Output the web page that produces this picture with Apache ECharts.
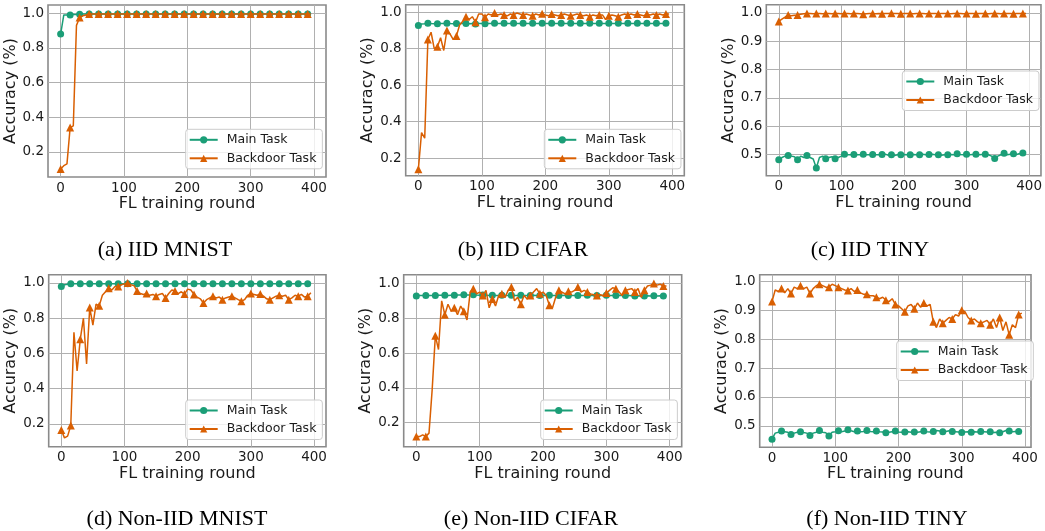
<!DOCTYPE html>
<html>
<head>
<meta charset="utf-8">
<script src="https://cdn.jsdelivr.net/npm/echarts@6/dist/echarts.min.js"></script>
<style>
  html, body { margin: 0; padding: 0; background: #fff; }
  #chart { width: 1045px; height: 531px; }
</style>
</head>
<body>
<div id="chart"></div>
<script>
// FL training rounds (sampled every 5 rounds)
const rounds = [
  0, 5, 10, 15, 20, 25, 30, 35, 40, 45, 50, 55, 60, 65, 70, 75, 80, 85, 90, 95,
  100, 105, 110, 115, 120, 125, 130, 135, 140, 145, 150, 155, 160, 165, 170, 175, 180, 185, 190, 195,
  200, 205, 210, 215, 220, 225, 230, 235, 240, 245, 250, 255, 260, 265, 270, 275, 280, 285, 290, 295,
  300, 305, 310, 315, 320, 325, 330, 335, 340, 345, 350, 355, 360, 365, 370, 375, 380, 385, 390, 395
]

// (a) IID MNIST
const mnistIidMain = [
  0.88, 0.99, 0.99, 0.99, 0.992, 0.993, 0.994, 0.995, 0.995, 0.995,
  0.995, 0.995, 0.995, 0.995, 0.995, 0.995, 0.995, 0.995, 0.995, 0.995,
  0.995, 0.995, 0.995, 0.995, 0.995, 0.995, 0.995, 0.995, 0.995, 0.995,
  0.995, 0.995, 0.995, 0.995, 0.995, 0.995, 0.995, 0.995, 0.995, 0.995,
  0.995, 0.995, 0.995, 0.995, 0.995, 0.995, 0.995, 0.995, 0.995, 0.995,
  0.995, 0.995, 0.995, 0.995, 0.995, 0.995, 0.995, 0.995, 0.995, 0.995,
  0.995, 0.995, 0.995, 0.995, 0.995, 0.995, 0.995, 0.995, 0.995, 0.995,
  0.995, 0.995, 0.995, 0.995, 0.995, 0.995, 0.995, 0.995, 0.995, 0.995
]
const mnistIidBackdoor = [
  0.10, 0.12, 0.13, 0.34, 0.35, 0.93, 0.975, 0.985, 0.99, 0.995,
  0.995, 0.995, 0.995, 0.995, 0.995, 0.995, 0.995, 0.995, 0.995, 0.995,
  0.995, 0.995, 0.995, 0.995, 0.995, 0.995, 0.995, 0.995, 0.995, 0.995,
  0.995, 0.995, 0.995, 0.995, 0.995, 0.995, 0.995, 0.995, 0.995, 0.995,
  0.995, 0.995, 0.995, 0.995, 0.995, 0.995, 0.995, 0.995, 0.995, 0.995,
  0.995, 0.995, 0.995, 0.995, 0.995, 0.995, 0.995, 0.995, 0.995, 0.995,
  0.995, 0.995, 0.995, 0.995, 0.995, 0.995, 0.995, 0.995, 0.995, 0.995,
  0.995, 0.995, 0.995, 0.995, 0.995, 0.995, 0.995, 0.995, 0.995, 0.995
]

// (b) IID CIFAR
const cifarIidMain = [
  0.927, 0.935, 0.937, 0.94, 0.938, 0.937, 0.937, 0.938, 0.938, 0.94,
  0.938, 0.937, 0.938, 0.938, 0.94, 0.938, 0.937, 0.938, 0.935, 0.938,
  0.938, 0.937, 0.938, 0.938, 0.94, 0.938, 0.938, 0.94, 0.938, 0.938,
  0.94, 0.938, 0.938, 0.94, 0.938, 0.938, 0.94, 0.938, 0.938, 0.94,
  0.938, 0.938, 0.94, 0.938, 0.938, 0.94, 0.938, 0.938, 0.94, 0.938,
  0.938, 0.94, 0.938, 0.938, 0.94, 0.938, 0.938, 0.94, 0.938, 0.938,
  0.94, 0.938, 0.938, 0.94, 0.938, 0.938, 0.94, 0.938, 0.938, 0.94,
  0.938, 0.938, 0.94, 0.938, 0.938, 0.94, 0.938, 0.938, 0.94, 0.94
]
const cifarIidBackdoor = [
  0.14, 0.34, 0.31, 0.85, 0.89, 0.80, 0.81, 0.86, 0.79, 0.90,
  0.88, 0.85, 0.87, 0.93, 0.95, 0.975, 0.96, 0.975, 0.945, 0.99,
  0.99, 0.972, 0.99, 0.985, 0.995, 0.985, 0.99, 0.985, 0.98, 0.99,
  0.985, 0.995, 0.99, 0.985, 0.99, 0.985, 0.98, 0.99, 0.985, 0.992,
  0.985, 0.98, 0.99, 0.985, 0.98, 0.985, 0.99, 0.985, 0.98, 0.985,
  0.99, 0.985, 0.98, 0.985, 0.975, 0.985, 0.98, 0.985, 0.985, 0.96,
  0.98, 0.985, 0.98, 0.975, 0.985, 0.99, 0.985, 0.99, 0.985, 0.99,
  0.985, 0.98, 0.99, 0.985, 0.99, 0.985, 0.99, 0.985, 0.99, 0.99
]

// (c) IID TINY
const tinyIidMain = [
  0.482, 0.49, 0.495, 0.497, 0.495, 0.493, 0.482, 0.495, 0.49, 0.497,
  0.49, 0.485, 0.453, 0.49, 0.495, 0.486, 0.49, 0.493, 0.486, 0.49,
  0.495, 0.502, 0.5, 0.5, 0.501, 0.5, 0.5, 0.502, 0.5, 0.5,
  0.501, 0.5, 0.5, 0.501, 0.502, 0.498, 0.5, 0.497, 0.5, 0.5,
  0.501, 0.5, 0.5, 0.501, 0.5, 0.5, 0.502, 0.5, 0.501, 0.502,
  0.5, 0.5, 0.498, 0.5, 0.5, 0.501, 0.5, 0.503, 0.501, 0.5,
  0.502, 0.5, 0.501, 0.502, 0.5, 0.501, 0.502, 0.5, 0.495, 0.487,
  0.495, 0.5, 0.505, 0.5, 0.502, 0.503, 0.501, 0.504, 0.506, 0.505
]
const tinyIidBackdoor = [
  0.97, 0.978, 0.985, 0.993, 0.99, 0.992, 0.993, 0.995, 0.997, 0.998,
  0.998, 0.997, 0.998, 0.998, 0.997, 0.998, 0.998, 0.997, 0.998, 0.998,
  0.997, 0.998, 0.998, 0.997, 0.998, 0.998, 0.997, 0.995, 0.997, 0.998,
  0.998, 0.997, 0.998, 0.997, 0.998, 0.998, 0.999, 0.998, 0.998, 0.997,
  0.998, 0.998, 0.998, 0.997, 0.998, 0.998, 0.998, 0.997, 0.998, 0.998,
  0.998, 0.997, 0.998, 0.998, 0.998, 0.997, 0.998, 0.998, 0.998, 0.997,
  0.998, 0.998, 0.998, 0.997, 0.998, 0.998, 0.998, 0.997, 0.998, 0.998,
  0.998, 0.997, 0.998, 0.998, 0.998, 0.997, 0.998, 0.998, 0.998, 0.998
]

// (d) Non-IID MNIST
const mnistNonIidMain = [
  0.98, 0.99, 0.993, 0.995, 0.995, 0.995, 0.995, 0.995, 0.995, 0.995,
  0.995, 0.995, 0.995, 0.995, 0.995, 0.995, 0.995, 0.995, 0.995, 0.995,
  0.995, 0.995, 0.995, 0.995, 0.995, 0.995, 0.995, 0.995, 0.995, 0.995,
  0.995, 0.995, 0.995, 0.995, 0.995, 0.995, 0.995, 0.995, 0.995, 0.995,
  0.995, 0.995, 0.995, 0.995, 0.995, 0.995, 0.995, 0.995, 0.995, 0.995,
  0.995, 0.995, 0.995, 0.995, 0.995, 0.995, 0.995, 0.995, 0.995, 0.995,
  0.995, 0.995, 0.995, 0.995, 0.995, 0.995, 0.995, 0.995, 0.995, 0.995,
  0.995, 0.995, 0.995, 0.995, 0.995, 0.995, 0.995, 0.995, 0.995, 0.995
]
const mnistNonIidBackdoor = [
  0.165, 0.12, 0.13, 0.19, 0.72, 0.50, 0.68, 0.80, 0.54, 0.86,
  0.76, 0.88, 0.87, 0.93, 0.95, 0.97, 0.96, 0.98, 0.98, 0.99,
  0.995, 1.0, 0.99, 0.985, 0.955, 0.94, 0.935, 0.94, 0.93, 0.935,
  0.925, 0.935, 0.94, 0.915, 0.94, 0.96, 0.955, 0.94, 0.95, 0.937,
  0.965, 0.96, 0.935, 0.92, 0.91, 0.886, 0.905, 0.915, 0.925, 0.915,
  0.92, 0.905, 0.915, 0.92, 0.925, 0.915, 0.905, 0.896, 0.905, 0.93,
  0.94, 0.935, 0.93, 0.937, 0.925, 0.91, 0.905, 0.915, 0.925, 0.93,
  0.925, 0.93, 0.905, 0.915, 0.93, 0.925, 0.935, 0.92, 0.924, 0.945
]

// (e) Non-IID CIFAR
const cifarNonIidMain = [
  0.928, 0.93, 0.93, 0.93, 0.93, 0.93, 0.93, 0.932, 0.932, 0.932,
  0.93, 0.932, 0.932, 0.933, 0.934, 0.935, 0.934, 0.933, 0.935, 0.933,
  0.932, 0.933, 0.932, 0.93, 0.932, 0.931, 0.93, 0.932, 0.93, 0.931,
  0.932, 0.93, 0.931, 0.932, 0.93, 0.931, 0.93, 0.932, 0.93, 0.931,
  0.93, 0.931, 0.932, 0.93, 0.931, 0.93, 0.931, 0.932, 0.93, 0.931,
  0.93, 0.931, 0.93, 0.931, 0.932, 0.93, 0.931, 0.93, 0.931, 0.93,
  0.932, 0.931, 0.93, 0.931, 0.932, 0.93, 0.931, 0.93, 0.929, 0.928,
  0.929, 0.928, 0.928, 0.929, 0.928, 0.929, 0.928, 0.929, 0.928, 0.928
]
const cifarNonIidBackdoor = [
  0.12, 0.12, 0.13, 0.12, 0.14, 0.39, 0.70, 0.62, 0.90, 0.82,
  0.88, 0.84, 0.86, 0.82, 0.87, 0.84, 0.79, 0.95, 0.97, 0.94,
  0.95, 0.93, 0.96, 0.86, 0.91, 0.87, 0.93, 0.94, 0.92, 0.96,
  0.98, 0.90, 0.92, 0.88, 0.93, 0.91, 0.93, 0.95, 0.97, 0.94,
  0.95, 0.93, 0.875, 0.86, 0.92, 0.96, 0.95, 0.94, 0.955, 0.95,
  0.96, 0.98, 0.95, 0.96, 0.95, 0.94, 0.935, 0.93, 0.935, 0.93,
  0.945, 0.96, 0.975, 0.97, 0.95, 0.93, 0.96, 0.965, 0.97, 0.95,
  0.97, 0.92, 0.96, 0.985, 0.99, 1.0, 0.99, 0.995, 0.985, 0.985
]

// (f) Non-IID TINY
const tinyNonIidMain = [
  0.454, 0.475, 0.478, 0.482, 0.48, 0.478, 0.47, 0.475, 0.478, 0.48,
  0.477, 0.475, 0.467, 0.475, 0.478, 0.484, 0.478, 0.476, 0.465, 0.478,
  0.48, 0.483, 0.48, 0.482, 0.487, 0.483, 0.48, 0.482, 0.48, 0.481,
  0.484, 0.481, 0.48, 0.482, 0.48, 0.479, 0.476, 0.478, 0.48, 0.482,
  0.479, 0.478, 0.479, 0.48, 0.478, 0.479, 0.478, 0.48, 0.482, 0.48,
  0.479, 0.481, 0.484, 0.482, 0.48, 0.481, 0.483, 0.481, 0.48, 0.479,
  0.477, 0.479, 0.48, 0.478, 0.48, 0.479, 0.481, 0.48, 0.479, 0.48,
  0.477, 0.478, 0.476, 0.48, 0.484, 0.482, 0.48, 0.481, 0.481, 0.48
]
const tinyNonIidBackdoor = [
  0.93, 0.97, 0.965, 0.975, 0.96, 0.975, 0.958, 0.98, 0.975, 0.985,
  0.975, 0.98, 0.958, 0.975, 0.985, 0.99, 0.985, 0.98, 0.98, 0.99,
  0.985, 0.98, 0.975, 0.97, 0.968, 0.975, 0.965, 0.97, 0.96, 0.955,
  0.955, 0.95, 0.95, 0.945, 0.94, 0.945, 0.935, 0.93, 0.94, 0.92,
  0.915, 0.905, 0.895, 0.915, 0.92, 0.905, 0.925, 0.91, 0.925, 0.915,
  0.92, 0.86, 0.84, 0.87, 0.855, 0.865, 0.875, 0.87, 0.885, 0.88,
  0.9, 0.895, 0.875, 0.865, 0.87, 0.86, 0.855, 0.86, 0.865, 0.85,
  0.87, 0.84, 0.875, 0.83, 0.86, 0.815, 0.85, 0.84, 0.885, 0.89
]

const xTicks = [0, 100, 200, 300, 400]
const yTicksWide = [0.2, 0.4, 0.6, 0.8, 1.0]
const yTicksNarrow = [0.5, 0.6, 0.7, 0.8, 0.9, 1.0]
const seriesNames = ['Main Task', 'Backdoor Task']
const captions = [
  '(a) IID MNIST', '(b) IID CIFAR', '(c) IID TINY',
  '(d) Non-IID MNIST', '(e) Non-IID CIFAR', '(f) Non-IID TINY'
]

const GREEN = '#1b9e77'
const ORANGE = '#d95f02'
const MARK_EVERY = 3 // one marker every 15 rounds

// layout of the six panels
const panels = [
  { main: mnistIidMain, backdoor: mnistIidBackdoor, yTicks: yTicksWide,
    grid: { left: 48, top: 5, width: 278, height: 172 },
    x: [-19.95, 418.95], y: [0.0545, 1.0475], legend: [185.7, 129.3], cap: [165, 250] },
  { main: cifarIidMain, backdoor: cifarIidBackdoor, yTicks: yTicksWide,
    grid: { left: 405.7, top: 4.7, width: 278.6, height: 171 },
    x: [-19.95, 418.95], y: [0.104, 1.041], legend: [544.3, 129.3], cap: [523, 250] },
  { main: tinyIidMain, backdoor: tinyIidBackdoor, yTicks: yTicksNarrow,
    grid: { left: 766.3, top: 4.7, width: 277, height: 171 },
    x: [-19.95, 418.95], y: [0.426, 1.029], legend: [902.3, 71], cap: [870, 250] },
  { main: mnistNonIidMain, backdoor: mnistNonIidBackdoor, yTicks: yTicksWide,
    grid: { left: 48.7, top: 274.7, width: 277.3, height: 172 },
    x: [-19.95, 418.95], y: [0.07, 1.047], legend: [185.7, 400], cap: [177, 519] },
  { main: cifarNonIidMain, backdoor: cifarNonIidBackdoor, yTicks: yTicksWide,
    grid: { left: 403.7, top: 274.7, width: 278, height: 172 },
    x: [-19.95, 418.95], y: [0.062, 1.05], legend: [540.7, 400], cap: [531, 519] },
  { main: tinyNonIidMain, backdoor: tinyNonIidBackdoor, yTicks: yTicksNarrow,
    grid: { left: 759.7, top: 274.7, width: 271.3, height: 172.6 },
    x: [-19.5, 409.5], y: [0.426, 1.023], legend: [896.7, 341], cap: [887, 519] }
]

const FONT = 'DejaVu Sans'

function buildData(values) {
  return values.map((v, i) =>
    i % MARK_EVERY === 0 ? [rounds[i], v] : { value: [rounds[i], v], symbol: 'none' }
  )
}

const chart = echarts.init(document.getElementById('chart'), null, { renderer: 'canvas' })

const option = {
  animation: false,
  backgroundColor: '#fff',
  grid: panels.map(p => ({
    ...p.grid,
    show: true,
    borderColor: '#8a8a8a',
    borderWidth: 1.6,
    backgroundColor: 'transparent',
    containLabel: false
  })),
  xAxis: panels.map((p, i) => ({
    type: 'value',
    gridIndex: i,
    min: p.x[0],
    max: p.x[1],
    name: 'FL training round',
    nameLocation: 'middle',
    nameGap: 19,
    nameTextStyle: { fontFamily: FONT, fontSize: 16, color: '#1a1a1a' },
    axisLine: { show: false },
    axisTick: { show: false, customValues: xTicks },
    axisLabel: {
      customValues: xTicks,
      margin: 4,
      fontFamily: FONT, fontSize: 13.5, color: '#1a1a1a'
    },
    splitLine: { show: true, lineStyle: { color: '#b0b0b0', width: 1 } }
  })),
  yAxis: panels.map((p, i) => ({
    type: 'value',
    gridIndex: i,
    min: p.y[0],
    max: p.y[1],
    name: 'Accuracy (%)',
    nameLocation: 'middle',
    nameGap: 23,
    nameTextStyle: { fontFamily: FONT, fontSize: 16, color: '#1a1a1a' },
    axisLine: { show: false },
    axisTick: { show: false, customValues: p.yTicks },
    axisLabel: {
      customValues: p.yTicks,
      margin: 4,
      formatter: v => v.toFixed(1),
      fontFamily: FONT, fontSize: 13.5, color: '#1a1a1a'
    },
    splitLine: { show: true, lineStyle: { color: '#b0b0b0', width: 1 } }
  })),
  legend: panels.map(p => ({
    data: seriesNames,
    orient: 'vertical',
    left: p.legend[0],
    top: p.legend[1],
    padding: [4, 6, 4, 3],
    itemGap: 5.5,
    itemWidth: 28,
    itemHeight: 9,
    selectedMode: false,
    backgroundColor: 'rgba(255,255,255,0.8)',
    borderColor: '#cccccc',
    borderWidth: 1,
    borderRadius: 3,
    textStyle: { fontFamily: FONT, fontSize: 12.5, color: '#1a1a1a', padding: [0, 0, 0, 4] }
  })),
  series: panels.flatMap((p, i) => [
    {
      name: seriesNames[0],
      type: 'line',
      xAxisIndex: i,
      yAxisIndex: i,
      data: buildData(p.main),
      symbol: 'circle',
      symbolSize: 7,
      showAllSymbol: true,
      lineStyle: { color: GREEN, width: 1.5 },
      itemStyle: { color: GREEN },
      emphasis: { disabled: true },
      z: 2
    },
    {
      name: seriesNames[1],
      type: 'line',
      xAxisIndex: i,
      yAxisIndex: i,
      data: buildData(p.backdoor),
      symbol: 'triangle',
      symbolSize: 8,
      showAllSymbol: true,
      lineStyle: { color: ORANGE, width: 1.5 },
      itemStyle: { color: ORANGE },
      emphasis: { disabled: true },
      z: 3
    }
  ]),
  graphic: panels.map((p, i) => ({
    type: 'text',
    x: p.cap[0],
    y: p.cap[1],
    style: {
      text: captions[i],
      font: '22px "Liberation Serif"',
      fill: '#000',
      align: 'center',
      verticalAlign: 'middle'
    }
  }))
}

chart.setOption(option)
</script>
</body>
</html>
